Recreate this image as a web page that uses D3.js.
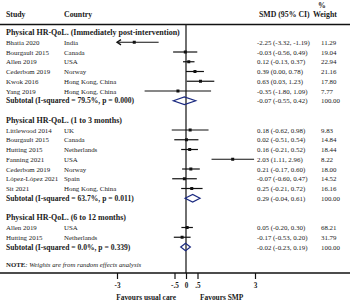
<!DOCTYPE html>
<html>
<head>
<meta charset="utf-8">
<script src="https://cdn.jsdelivr.net/npm/d3@7"></script>
<style>
  body { margin: 0; background: #fff; }
  text { font-family: "Liberation Serif", "Times New Roman", serif; fill: #1a1a1a; }
</style>
</head>
<body>
<div id="chart"></div>
<script>
// Subgroup titles and heterogeneity
const groupTitles = [
  "Physical HR-QoL. (Immediately post-intervention)",
  "Physical HR-QoL. (1 to 3 months)",
  "Physical HR-QoL. (6 to 12 months)"
];
const groupI2 = ["79.5%", "63.7%", "0.0%"];
const groupP = ["0.000", "0.011", "0.339"];
const groupSmd = [-0.07, 0.29, -0.02];
const groupLo = [-0.55, -0.04, -0.23];
const groupHi = [0.42, 0.61, 0.19];

// Studies (group index, name, country, SMD, CI, weight)
const studyGroup = [0, 0, 0, 0, 0, 0, 1, 1, 1, 1, 1, 1, 1, 2, 2];
const studies = ["Bhatia 2020", "Bourgault 2015", "Allen 2019", "Cederbom 2019", "Kwok 2016", "Yang 2019",
  "Littlewood 2014", "Bourgault 2015", "Hutting 2015", "Fanning 2021", "Cederbom 2019", "López-López 2021", "Sit 2021",
  "Allen 2019", "Hutting 2015"];
const countries = ["India", "Canada", "USA", "Norway", "Hong Kong, China", "Hong Kong, China",
  "UK", "Canada", "Netherlands", "USA", "Norway", "Spain", "Hong Kong, China",
  "USA", "Netherlands"];
const smd = [-2.25, -0.03, 0.12, 0.39, 0.63, -0.35, 0.18, 0.02, 0.16, 2.03, 0.21, -0.07, 0.25, 0.05, -0.17];
const ciLo = [-3.32, -0.56, -0.13, 0.00, 0.03, -1.80, -0.62, -0.51, -0.21, 1.11, -0.17, -0.60, -0.21, -0.20, -0.53];
const ciHi = [-1.19, 0.49, 0.37, 0.78, 1.23, 1.09, 0.98, 0.54, 0.52, 2.96, 0.60, 0.47, 0.72, 0.30, 0.20];
const weights = [11.29, 19.04, 22.94, 21.16, 17.80, 7.77, 9.83, 14.84, 18.44, 8.22, 18.00, 14.52, 16.16, 68.21, 31.79];

// Axis ticks
const tickVals = [-3, -0.5, 0, 0.5, 3];
const tickLabels = ["-3", "-.5", "0", ".5", "3"];

const W = 350, H = 301;
const svg = d3.select("#chart").append("svg").attr("width", W).attr("height", H);

const x = d3.scaleLinear().domain([-3, 3]).range([117, 255]);
// plain hyphen as minus, like the original
const f2 = d3.formatLocale({ decimal: ".", thousands: ",", grouping: [3], currency: ["", ""], minus: "-" }).format(".2f");
const rowY = i => 32.5 + i * 9.75;
const col = { study: 6, country: 64, smd: 257, weight: 321 };
const navy = "#1b2a80";

// build row list
const rows = [];
let r = 0;
groupTitles.forEach((t, g) => {
  rows.push({ type: "title", g, i: r++ });
  studies.forEach((s, k) => { if (studyGroup[k] === g) rows.push({ type: "study", k, i: r++ }); });
  rows.push({ type: "sub", g, i: r++ });
  r++;
});
const noteY = 263.5;
const axisY = 273;
const topY = 24.5;

// header
const hdr = svg.append("g").style("font-weight", "bold").style("font-size", "7.8px");
hdr.append("text").attr("x", col.study).attr("y", 14).attr("dominant-baseline", "central").text("Study");
hdr.append("text").attr("x", col.country).attr("y", 14).attr("dominant-baseline", "central").text("Country");
hdr.append("text").attr("x", 259).attr("y", 14.5).attr("dominant-baseline", "central").text("SMD (95% CI)");
hdr.append("text").attr("x", 313).attr("y", 14.5).attr("dominant-baseline", "central").text("Weight");
hdr.append("text").attr("x", 318).attr("y", 5).attr("dominant-baseline", "central").text("%");

svg.append("line").attr("x1", 0).attr("x2", W).attr("y1", topY).attr("y2", topY)
  .attr("stroke", "#111").attr("stroke-width", 1.3);

// zero line
svg.append("line").attr("x1", x(0)).attr("x2", x(0)).attr("y1", topY).attr("y2", axisY)
  .attr("stroke", "#222").attr("stroke-width", 1.3);

const txt = svg.append("g").style("font-size", "6.9px");

rows.forEach(d => {
  const y = rowY(d.i);
  if (d.type === "title") {
    txt.append("text").attr("x", col.study).attr("y", y).attr("dominant-baseline", "central")
      .style("font-weight", "bold").style("font-size", "8px").text(groupTitles[d.g]);
  } else if (d.type === "study") {
    const k = d.k;
    txt.append("text").attr("x", col.study).attr("y", y).attr("dominant-baseline", "central").text(studies[k]);
    txt.append("text").attr("x", col.country).attr("y", y).attr("dominant-baseline", "central").text(countries[k]);
    txt.append("text").attr("x", col.smd).attr("y", y).attr("dominant-baseline", "central")
      .text(`${f2(smd[k])} (${f2(ciLo[k])}, ${f2(ciHi[k])})`);
    txt.append("text").attr("x", col.weight).attr("y", y).attr("dominant-baseline", "central").text(f2(weights[k]));

    const lo = Math.max(ciLo[k], -3), hi = Math.min(ciHi[k], 3);
    svg.append("line").attr("x1", x(lo)).attr("x2", x(hi)).attr("y1", y).attr("y2", y)
      .attr("stroke", "#111").attr("stroke-width", 1.2);
    if (ciLo[k] < -3) {
      svg.append("path")
        .attr("d", `M${x(-3) + 4},${y - 2.6}L${x(-3)},${y}L${x(-3) + 4},${y + 2.6}`)
        .attr("fill", "none").attr("stroke", "#111").attr("stroke-width", 1.3);
    }
    const s = 3;
    svg.append("rect").attr("x", x(smd[k]) - s / 2).attr("y", y - s / 2)
      .attr("width", s).attr("height", s).attr("fill", "#111");
  } else {
    const g = d.g;
    txt.append("text").attr("x", col.study).attr("y", y).attr("dominant-baseline", "central")
      .style("font-weight", "bold").style("font-size", "7.6px")
      .text(`Subtotal (I-squared = ${groupI2[g]}, p = ${groupP[g]})`);
    txt.append("text").attr("x", col.smd).attr("y", y).attr("dominant-baseline", "central")
      .text(`${f2(groupSmd[g])} (${f2(groupLo[g])}, ${f2(groupHi[g])})`);
    txt.append("text").attr("x", col.weight).attr("y", y).attr("dominant-baseline", "central").text("100.00");
    const h = 3.8;
    svg.append("polygon")
      .attr("points", [[x(groupLo[g]), y], [x(groupSmd[g]), y - h], [x(groupHi[g]), y], [x(groupSmd[g]), y + h]].join(" "))
      .attr("fill", "none").attr("stroke", navy).attr("stroke-width", 1.2);
  }
});

// note
const note = svg.append("text").attr("x", col.study).attr("y", noteY).attr("dominant-baseline", "central")
  .style("font-size", "6.8px");
note.append("tspan").style("font-weight", "bold").text("NOTE");
note.append("tspan").style("font-style", "italic").text(": Weights are from random effects analysis");

// axis
svg.append("line").attr("x1", 0).attr("x2", W).attr("y1", axisY).attr("y2", axisY)
  .attr("stroke", "#111").attr("stroke-width", 1.3);
const ax = svg.append("g").attr("transform", `translate(0,${axisY})`)
  .call(d3.axisBottom(x).tickValues(tickVals).tickSize(6).tickPadding(4)
    .tickFormat((d, i) => tickLabels[i]));
ax.select(".domain").remove();
ax.selectAll(".tick line").attr("stroke", "#111").attr("stroke-width", 1.2);
ax.selectAll(".tick text").attr("font-family", null).style("font-size", "7.2px").style("font-weight", "bold").attr("fill", "#1a1a1a");

svg.append("text").attr("x", 176).attr("y", 297).attr("text-anchor", "end").attr("dominant-baseline", "central")
  .style("font-size", "7.4px").style("font-weight", "bold").text("Favours usual care");
svg.append("text").attr("x", 200).attr("y", 297).attr("dominant-baseline", "central")
  .style("font-size", "7.4px").style("font-weight", "bold").text("Favours SMP");
</script>
</body>
</html>
